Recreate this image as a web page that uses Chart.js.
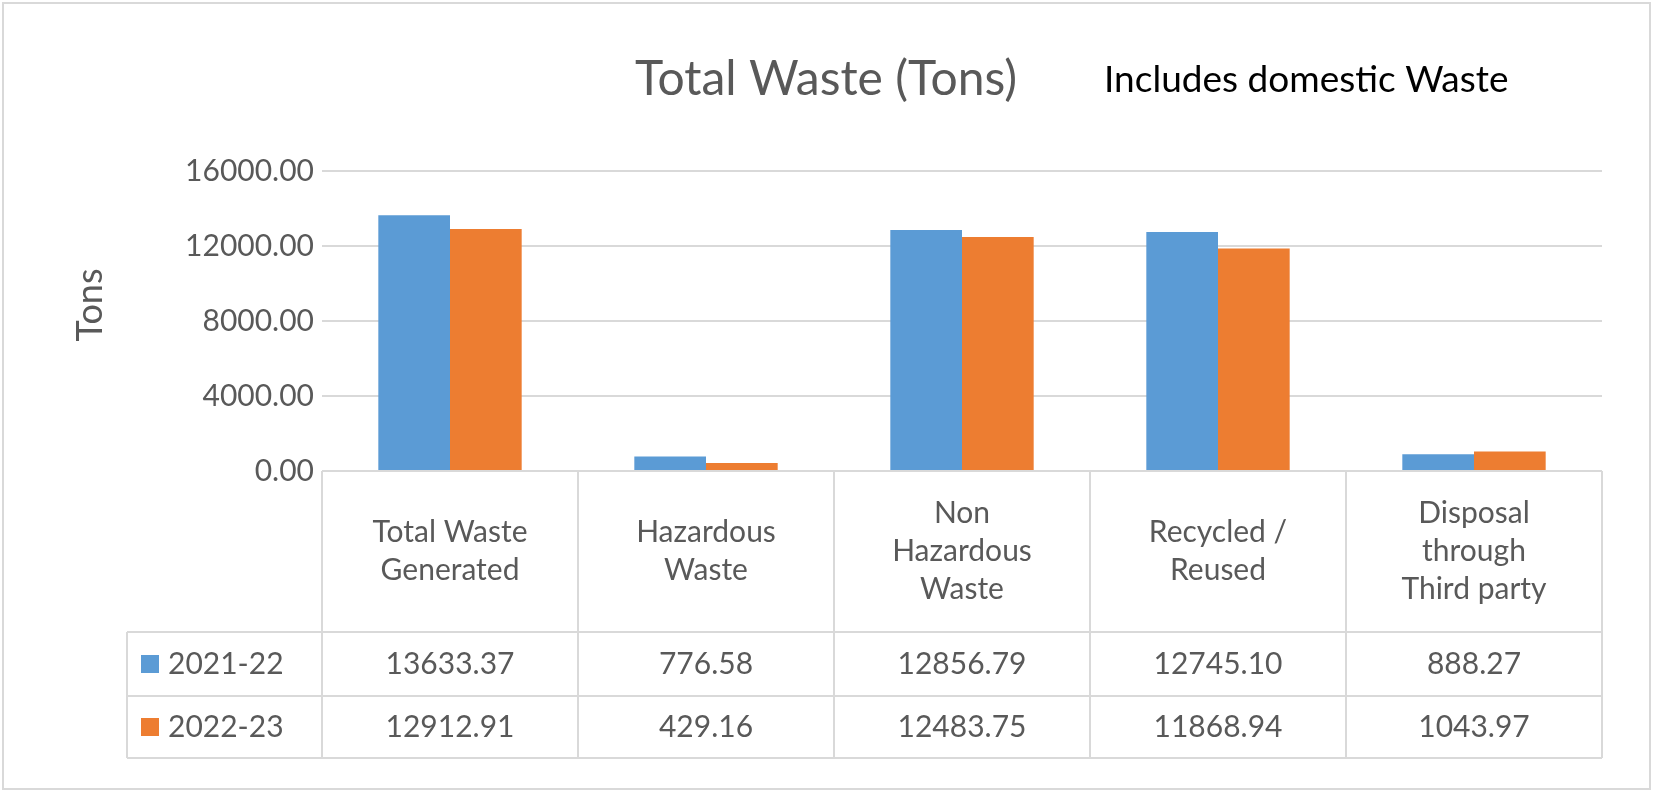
<!DOCTYPE html>
<html>
<head>
<meta charset="utf-8">
<script src="https://cdn.jsdelivr.net/npm/chart.js@4"></script>
<style>
  html, body { margin: 0; padding: 0; background: #fff; }
  #wrap { width: 1653px; height: 792px; position: relative; }
</style>
</head>
<body>
<div id="wrap"><canvas id="chart" width="1653" height="792"></canvas></div>
<script>
const categories = [
  ['Total Waste', 'Generated'],
  ['Hazardous', 'Waste'],
  ['Non', 'Hazardous', 'Waste'],
  ['Recycled /', 'Reused'],
  ['Disposal', 'through', 'Third party']
];
const seriesNames = ['2021-22', '2022-23'];
const values2122 = [13633.37, 776.58, 12856.79, 12745.10, 888.27];
const values2223 = [12912.91, 429.16, 12483.75, 11868.94, 1043.97];
const colors = ['#5B9BD5', '#ED7D31'];

const FONT = 'Lato, "Open Sans", sans-serif';
const GRID = '#d9d9d9';
const TEXT = '#595959';

// rows of the data table under the plot
const tableTop = 471, labelRowBottom = 632, row1Bottom = 696, row2Bottom = 758, tableLeft = 127;

const tablePlugin = {
  id: 'tablePlugin',
  afterDraw(chart) {
    const ctx = chart.ctx;
    const area = chart.chartArea;
    const x = chart.scales.x;
    const step = (area.right - area.left) / categories.length;
    ctx.save();
    // outer frame
    ctx.strokeStyle = GRID;
    ctx.lineWidth = 2;
    ctx.strokeRect(3, 3, 1647, 786);

    // titles
    ctx.fillStyle = TEXT;
    ctx.font = '48px ' + FONT;
    ctx.textAlign = 'center';
    ctx.textBaseline = 'middle';
    ctx.fillText('Total Waste (Tons)', 826, 80);
    ctx.fillStyle = '#000';
    ctx.font = '37px ' + FONT;
    ctx.textAlign = 'left';
    ctx.fillText('Includes domestic Waste', 1104, 80);

    // table lines
    ctx.strokeStyle = GRID;
    ctx.lineWidth = 2;
    ctx.beginPath();
    for (let i = 0; i <= categories.length; i++) {
      const xx = area.left + step * i;
      ctx.moveTo(xx, tableTop); ctx.lineTo(xx, row2Bottom);
    }
    ctx.moveTo(tableLeft, labelRowBottom); ctx.lineTo(area.right, labelRowBottom);
    ctx.moveTo(tableLeft, row1Bottom); ctx.lineTo(area.right, row1Bottom);
    ctx.moveTo(tableLeft, row2Bottom); ctx.lineTo(area.right, row2Bottom);
    ctx.moveTo(tableLeft, labelRowBottom); ctx.lineTo(tableLeft, row2Bottom);
    ctx.stroke();

    // category labels
    ctx.fillStyle = TEXT;
    ctx.font = '30px ' + FONT;
    ctx.textAlign = 'center';
    categories.forEach((lines, i) => {
      const cx = x.getPixelForValue(i);
      const lh = 38;
      const mid = (tableTop + labelRowBottom) / 2;
      const start = mid - (lines.length - 1) * lh / 2;
      lines.forEach((t, j) => ctx.fillText(t, cx, start + j * lh));
    });

    // values rows
    const rows = [values2122, values2223];
    const rowMids = [(labelRowBottom + row1Bottom) / 2, (row1Bottom + row2Bottom) / 2];
    rows.forEach((vals, r) => {
      ctx.textAlign = 'center';
      ctx.fillStyle = TEXT;
      vals.forEach((v, i) => ctx.fillText(v.toFixed(2), x.getPixelForValue(i), rowMids[r]));
      ctx.fillStyle = colors[r];
      ctx.fillRect(141, rowMids[r] - 9, 18, 18);
      ctx.fillStyle = TEXT;
      ctx.textAlign = 'left';
      ctx.fillText(seriesNames[r], 168, rowMids[r]);
    });

    // y axis title
    ctx.font = '36px ' + FONT;
    ctx.textAlign = 'center';
    ctx.translate(90, 305);
    ctx.rotate(-Math.PI / 2);
    ctx.fillText('Tons', 0, 0);
    ctx.restore();
  }
};

new Chart(document.getElementById('chart'), {
  type: 'bar',
  data: {
    labels: categories.map(c => c.join(' ')),
    datasets: [
      { label: seriesNames[0], data: values2122, backgroundColor: colors[0] },
      { label: seriesNames[1], data: values2223, backgroundColor: colors[1] }
    ]
  },
  options: {
    responsive: false,
    animation: false,
    layout: { padding: { left: 0, right: 51, top: 171, bottom: 321 } },
    datasets: { bar: { categoryPercentage: 0.56, barPercentage: 1 } },
    plugins: { legend: { display: false }, tooltip: { enabled: false } },
    scales: {
      x: { display: false },
      y: {
        min: 0, max: 16000,
        ticks: {
          stepSize: 2000,
          color: TEXT,
          font: { family: FONT, size: 30 },
          padding: 8,
          callback: v => v.toFixed(2)
        },
        grid: { color: GRID, lineWidth: 2, drawTicks: false },
        border: { display: false },
        afterFit: s => { s.width = 322; }
      }
    }
  },
  plugins: [tablePlugin]
});
</script>
</body>
</html>
